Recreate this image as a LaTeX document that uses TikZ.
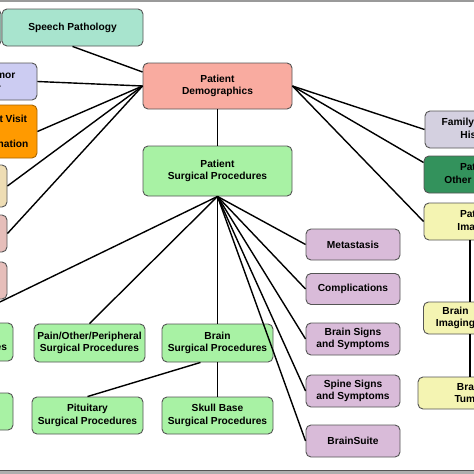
\documentclass[tikz,border=0pt]{standalone}
\usepackage{fontspec}
\setmainfont{Liberation Sans}
\usetikzlibrary{calc}
\definecolor{cSP}{HTML}{A8E4CE}
\definecolor{cDem}{HTML}{F9ABA0}
\definecolor{cTum}{HTML}{CCCCF2}
\definecolor{cOra}{HTML}{FF9A00}
\definecolor{cOraLine}{HTML}{A86500}
\definecolor{cBei}{HTML}{EEDDB4}
\definecolor{cPink}{HTML}{E6BEBA}
\definecolor{cGreen}{HTML}{A8F2A4}
\definecolor{cPurp}{HTML}{D9BBD9}
\definecolor{cFam}{HTML}{D4D0E0}
\definecolor{cDkGreen}{HTML}{33925C}
\definecolor{cYel}{HTML}{F4F4B2}
\definecolor{boxline}{HTML}{555555}
\definecolor{frameGray}{HTML}{9A9A9A}
\begin{document}
\begin{tikzpicture}[x=1pt,y=-1pt,
  box/.style={draw=boxline, line width=0.9pt, rounded corners=5pt, inner sep=0pt,
    align=center, font=\fontsize{10.2}{12.5}\selectfont\bfseries, text=black},
  wide/.style={minimum width=111pt},
  link/.style={line width=1.4pt, black}]
\useasboundingbox (0,0) rectangle (474,474);
\clip (0,0) rectangle (474,474);
\fill[white] (0,0) rectangle (474,474);
% frame remnants
\fill[frameGray] (0,0.4) rectangle (474,1.8);
\fill[frameGray!80] (0,470.5) rectangle (474,474);
\draw[boxline] (0,470.5) -- (474,470.5);

% top / left column
\node[box, fill=cSP, minimum width=101pt, minimum height=37pt] (hid) at (-49.5,27.5) {};
\node[box, fill=cSP, minimum width=141pt, minimum height=37pt] (sp) at (72.5,27.5) {Speech Pathology};
\node[box, fill=cDem, minimum width=149pt, minimum height=46pt] (dem) at (217.5,86) {Patient\\Demographics};
\node[box, fill=cTum, minimum width=111pt, minimum height=37pt] (tum) at (-18.5,81.5) {Patient Tumor\\Number};
\node[box, fill=cOra, draw=cOraLine, minimum width=78pt, minimum height=53pt] (ori) at (-2,131.5) {Patient Visit\\[12.5pt]Examination};
\node[box, fill=cBei, wide, minimum height=42pt] (bei) at (-48.5,186) {};
\node[box, fill=cPink, wide, minimum height=37pt] (pk1) at (-48.5,233.5) {};
\node[box, fill=cPink, wide, minimum height=37pt] (pk2) at (-48.5,280.5) {};
\node[box, fill=cGreen, wide, minimum height=38pt] (gl1) at (-42.5,342) {Spine\\Surgical Procedures};
\node[box, fill=cGreen, wide, minimum height=37pt] (gl2) at (-42.5,411.5) {Functional\\Procedures};

% surgical tree
\node[box, fill=cGreen, minimum width=149pt, minimum height=50pt] (surg) at (217.5,171) {Patient\\Surgical Procedures};
\node[box, fill=cGreen, wide, minimum height=38pt] (pain) at (89.5,343) {Pain/Other/Peripheral\\Surgical Procedures};
\node[box, fill=cGreen, wide, minimum height=38pt] (brs) at (217.5,343) {Brain\\Surgical Procedures};
\node[box, fill=cGreen, wide, minimum height=37pt] (pit) at (87.5,415.5) {Pituitary\\Surgical Procedures};
\node[box, fill=cGreen, wide, minimum height=37pt] (skb) at (217.5,415.5) {Skull Base\\Surgical Procedures};
\node[box, fill=cPurp, minimum width=94pt, minimum height=31pt] (met) at (353,244.5) {Metastasis};
\node[box, fill=cPurp, minimum width=94pt, minimum height=31pt] (comp) at (353,289) {Complications};
\node[box, fill=cPurp, minimum width=94pt, minimum height=32pt] (bss) at (353,339) {Brain Signs\\and Symptoms};
\node[box, fill=cPurp, minimum width=94pt, minimum height=32pt] (sss) at (353,391) {Spine Signs\\and Symptoms};
\node[box, fill=cPurp, minimum width=94pt, minimum height=32pt] (bsu) at (353,441) {BrainSuite};

% right column
\node[box, fill=cFam, minimum width=106pt, minimum height=37pt] (fam) at (478,129.5) {Family Medical\\History};
\node[box, fill=cDkGreen, minimum width=106pt, minimum height=37pt] (pot) at (477,174.5) {Patient\\Other History};
\node[box, fill=cYel, minimum width=106pt, minimum height=37pt] (pim) at (477,221.5) {Patient\\Imaging};
\node[box, fill=cYel, minimum width=64pt, minimum height=32pt] (bim) at (455.5,318) {Brain\\Imaging};
\node[box, fill=cYel, minimum width=104pt, minimum height=32pt] (bt) at (470,393) {Brain\\Tumor};
\coordinate (cv) at (470,0);

% connectors
\draw[link] (sp.south) -- ([yshift=14pt]dem.west);
\draw[link] (tum.east) -- (dem.west);
\draw[link] (ori.east) -- (dem.west);
\draw[link] (bei.east) -- (dem.west);
\draw[link] (pk1.east) -- (dem.west);
\draw[link] (dem.east) -- (fam.west);
\draw[link] (dem.east) -- ([yshift=12pt]pot.west);
\draw[link] (dem.east) -- (pim.west);
\draw[link] (dem.south) -- (surg.north);
\draw[link] (surg.south) -- (gl1.north);
\draw[link] (surg.south) -- (pain.north);
\draw[link] (surg.south) -- (brs.north);
\draw[link] (surg.south) -- (met.west);
\draw[link] (surg.south) -- (comp.west);
\draw[link] (surg.south) -- (bss.west);
\draw[link] (surg.south) -- (sss.west);
\draw[link] (surg.south) -- (bsu.west);
\draw[link] ([xshift=-17pt]brs.south) -- (pit.north);
\draw[link] (brs.south) -- (skb.north);
\draw[link] (pim.south -| cv) -- (bim.north -| cv);
\draw[link] (bim.south -| cv) -- (bt.north -| cv);
\end{tikzpicture}
\end{document}
